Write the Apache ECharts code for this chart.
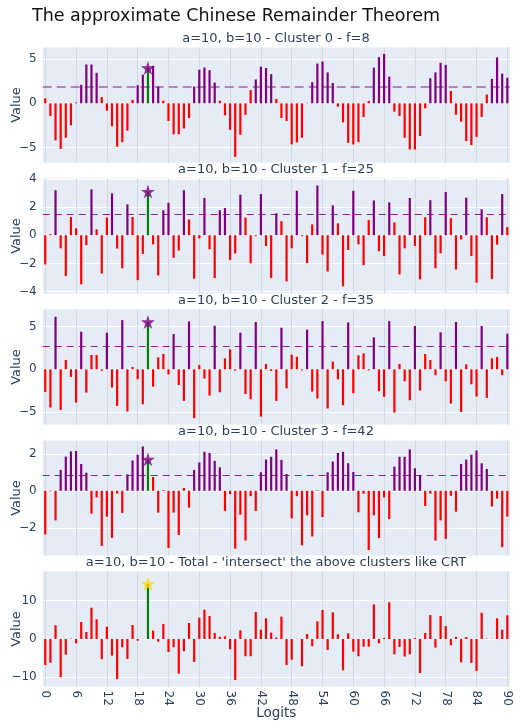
<!DOCTYPE html>
<html><head><meta charset="utf-8">
<script src="https://cdn.jsdelivr.net/npm/echarts@6/dist/echarts.min.js"></script>
<style>html,body{margin:0;padding:0;background:#fff;}#c{width:516px;height:721px;}</style>
</head><body><div id="c"></div>
<script>
// ---------------- data ----------------
const logits = []; for (let i = 0; i <= 90; i++) logits.push(String(i));
const target = 20;
const mainTitle = 'The approximate Chinese Remainder Theorem';
const panelTitles = [
  'a=10, b=10 - Cluster 0 - f=8',
  'a=10, b=10 - Cluster 1 - f=25',
  'a=10, b=10 - Cluster 2 - f=35',
  'a=10, b=10 - Cluster 3 - f=42',
  "a=10, b=10 - Total - 'intersect' the above clusters like CRT"
];
const cluster0 = [0.57,-1.44,-4.2,-5.15,-3.9,-2.5,0.1,2.1,4.4,4.4,3.45,0.7,-0.83,-2.6,-4.9,-4.4,-3.1,0.4,2.05,3.25,
  4.0,4.25,1.9,0.3,-2.0,-3.5,-3.5,-2.85,-1.67,1.9,3.8,4.05,3.75,2.35,0.3,-1.36,-3.0,-6.06,-3.56,-1.3,
  1.5,2.7,4.15,4.0,3.3,0.5,-1.67,-2.0,-4.65,-4.43,-3.9,0.05,2.4,4.5,4.73,3.5,2.3,-0.38,-2.16,-4.47,
  -4.66,-4.4,-1.55,0.27,4.05,5.23,5.6,3.03,-0.95,-1.44,-3.9,-5.23,-5.23,-3.7,-0.57,2.84,3.5,4.58,4.35,1.4,
  -1.3,-2.08,-4.28,-4.73,-3.8,-1.55,1.0,2.77,5.2,3.37,2.9];
const cluster1 = [-2.07,0.07,3.2,-0.93,-2.9,1.3,0.49,-3.49,-0.7,3.26,0.42,-2.72,1.26,2.98,-0.95,-2.35,2.19,1.3,-3.19,-1.33,
  3.1,-0.65,-2.86,1.77,2.3,-1.6,-1.09,3.2,1.12,-3.09,-0.23,2.65,-1.0,-3.05,1.77,1.93,-1.77,-1.3,2.88,1.26,
  -2.0,-0.07,2.93,-0.77,-3.05,1.56,1.0,-3.28,-0.93,3.16,-0.07,-1.98,0.77,3.53,-1.37,-2.58,2.12,0.84,-3.63,-1.05,
  3.16,-0.65,-2.12,1.09,2.47,-1.14,-1.47,2.33,0.91,-2.79,-0.93,2.65,-0.77,-3.14,1.28,2.49,-2.35,-1.28,3.07,1.21,
  -2.44,-0.3,2.67,-1.47,-3.37,1.84,1.28,-3.12,-0.67,2.93,0.58];
const cluster2 = [-2.66,-4.49,6.17,-4.77,1.09,-0.9,-3.9,4.41,-2.73,1.68,1.68,-0.16,4.3,-2.15,-4.3,5.78,-4.96,0.27,-1.17,-4.1,
  5.55,-2.03,1.4,1.8,-0.59,4.14,-1.84,-3.71,5.62,-5.74,0.5,-1.09,-3.09,5.12,-2.7,1.29,2.34,-0.16,4.3,-2.9,
  -3.52,5.55,-5.55,0.63,-0.2,-3.71,4.88,-2.23,1.72,1.48,-0.12,4.65,-2.62,-3.44,5.66,-4.6,0.9,-1.17,-4.22,5.5,
  -2.81,1.64,1.88,-0.12,3.75,-2.58,-3.24,5.66,-5.08,0.63,-1.41,-3.63,5.08,-2.5,1.8,1.09,-0.7,4.34,-1.41,-4.02,
  5.55,-5.0,0.59,-1.76,-3.2,5.08,-3.36,1.29,1.45,-0.7,4.18];
const cluster3 = [-2.36,-0.03,-1.6,1.13,1.85,2.13,2.15,1.45,0.98,-1.24,-0.36,-2.98,-1.4,-2.55,-0.15,-1.2,0.89,1.64,1.95,2.4,
  1.7,0.75,-1.18,0.04,-3.09,-1.18,-2.4,0.15,-0.91,1.13,1.53,2.11,2.05,1.62,1.27,-1.09,-0.18,-3.13,-1.29,-2.69,
  -0.29,-1.09,1.0,1.69,1.84,2.24,1.67,0.91,-1.49,-0.29,-2.95,-1.33,-2.47,0.03,-1.42,1.0,1.58,2.05,2.11,1.49,
  1.02,-1.16,-0.16,-3.2,-1.33,-2.56,-0.36,-1.53,1.31,1.84,1.84,2.24,1.22,0.86,-0.82,-0.16,-2.69,-1.6,-2.6,-0.27,
  -1.13,1.45,1.69,1.95,2.18,1.49,1.18,-0.85,-0.42,-3.05,-1.4];
const total = [-6.8,-6.2,3.57,-10.0,-4.1,0.1,-1.13,4.43,1.83,8.17,5.13,-5.3,3.2,-4.35,-10.5,-2.17,-5.2,3.65,-0.43,0.05,
  14.35,2.17,-0.7,3.9,-3.4,-2.17,-9.04,-3.2,4.17,-6.0,5.57,7.65,6.0,1.57,0.6,0.7,-2.7,-10.7,2.26,-4.5,
  -4.5,7.04,2.43,5.4,1.65,0.4,5.83,-6.8,-5.4,0.05,-7.13,1.3,-1.9,4.6,7.57,-2.87,6.96,1.22,-8.17,1.48,
  -3.3,-4.5,-2.0,-2.0,9.04,-1.13,0.26,9.57,-4.0,-2.09,-4.6,-4.0,0.26,-8.87,1.57,6.26,-2.26,6.0,3.39,-1.65,
  0.52,-6.09,0.52,-6.26,-8.35,6.87,0.1,0.05,5.4,2.43,6.17];
const thresholds = [1.85, 1.49, 2.66, 0.82, null];
const yMins = [-6.7, -4.14, -6.48, -3.5, -12.4];
const yMaxs = [6.32, 4.03, 7.02, 2.72, 17.6];
const yIntervals = [5, 2, 5, 2, 10];
const seriesValues = [cluster0, cluster1, cluster2, cluster3, total];

// ---------------- layout / style ----------------
const FONT = 'DejaVu Sans';
const tops = [47.5, 178.5, 309.5, 440.5, 571.5];
const H = 115, LEFT = 42.7, RIGHT = 6.1;
const STAR = 'path://M50,0 L61.2,34.5 L97.6,34.5 L68.2,55.9 L79.4,90.5 L50,69.1 L20.6,90.5 L31.8,55.9 L2.4,34.5 L38.8,34.5 Z';
const minus = v => String(v).replace('-', '\u2212');

const option = {
  animation: false,
  backgroundColor: '#fff',
  title: [{text: mainTitle, left: 32, top: 7, padding: 0, textStyle: {fontFamily: FONT, fontSize: 17.5, fontWeight: 'normal', color: '#111'}}]
    .concat(panelTitles.map((t, i) => ({text: t, left: 276, top: tops[i] - 15, padding: 0, textAlign: 'center',
      textStyle: {fontFamily: FONT, fontSize: 13, fontWeight: 'normal', color: '#2a3f5f'}}))),
  grid: tops.map(t => ({left: LEFT, right: RIGHT, top: t, height: H, show: true, backgroundColor: '#E5ECF6', borderWidth: 0,
    containLabel: false, outerBoundsMode: 'none'})),
  xAxis: tops.map((t, i) => ({
    type: 'category', gridIndex: i, data: logits, boundaryGap: true,
    axisLine: {show: false}, axisTick: {show: false},
    axisLabel: {show: i === 4, interval: 5, rotate: -90, fontFamily: FONT, fontSize: 12, color: '#2a3f5f', margin: 4},
    splitLine: {show: true, interval: 5, alignWithLabel: true, lineStyle: {color: '#d3d7de', width: 1}},
    name: i === 4 ? 'Logits' : '', nameLocation: 'middle', nameGap: 20, nameMoveOverlap: false,
    nameTextStyle: {fontFamily: FONT, fontSize: 13.5, color: '#2a3f5f'}
  })),
  yAxis: tops.map((t, i) => ({
    type: 'value', gridIndex: i, min: yMins[i], max: yMaxs[i],
    minInterval: yIntervals[i], maxInterval: yIntervals[i],
    axisLine: {show: false}, axisTick: {show: false},
    axisLabel: {fontFamily: FONT, fontSize: 12, color: '#2a3f5f', margin: 6, showMinLabel: false, showMaxLabel: false, formatter: minus},
    splitLine: {show: true, showMinLine: false, showMaxLine: false, lineStyle: {color: '#ffffff', width: 1}},
    name: 'Value', nameLocation: 'middle', nameGap: 20, nameMoveOverlap: false,
    nameTextStyle: {fontFamily: FONT, fontSize: 13, color: '#2a3f5f'}
  })),
  series: []
};

seriesValues.forEach((vals, i) => {
  const thr = thresholds[i];
  const bar = {
    type: 'bar', xAxisIndex: i, yAxisIndex: i, data: vals, barWidth: 2.2,
    itemStyle: {color: p => p.dataIndex === target ? '#008000' : (thr !== null && p.value > thr ? '#800080' : '#ff0000')},
    z: 2
  };
  if (thr !== null) {
    bar.markLine = {
      silent: true, symbol: 'none', label: {show: false}, animation: false,
      lineStyle: i === 0 ? {color: 'rgba(128,0,128,0.45)', width: 2, type: [9, 5]}
                         : {color: '#800080', width: 1, type: [7, 5], opacity: 0.85},
      data: [{yAxis: thr}]
    };
  }
  option.series.push(bar);
  option.series.push({
    type: 'scatter', xAxisIndex: i, yAxisIndex: i,
    data: [[target, vals[target]]], symbol: STAR, symbolSize: 14,
    itemStyle: {color: i === 4 ? '#FFD700' : '#800080'}, z: 5
  });
});

const chart = echarts.init(document.getElementById('c'), null, {renderer: 'canvas'});
chart.setOption(option);
</script></body></html>
